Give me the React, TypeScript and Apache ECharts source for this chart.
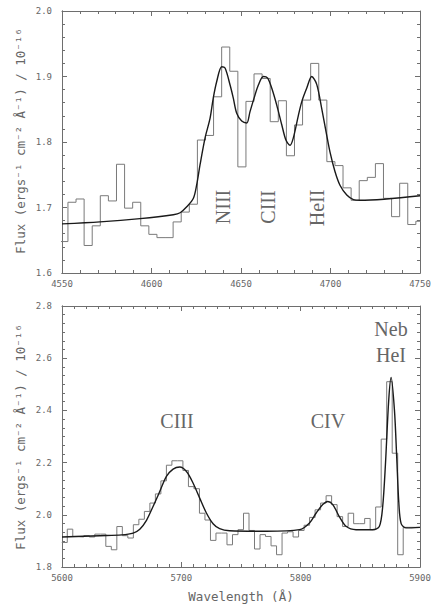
import React, { useEffect, useRef } from "react";
import * as echarts from "echarts";

// ---------- Top panel (He II / N III / C III region) ----------
const topBinStart = 4548.8; // Å, left edge of first observed bin
const topBinWidth = 4.52; // Å
const topObserved = [
  1.648, 1.708, 1.713, 1.642, 1.672, 1.718, 1.71, 1.766, 1.699, 1.708, 1.672,
  1.659, 1.654, 1.654, 1.678, 1.693, 1.705, 1.803, 1.81, 1.869, 1.945, 1.908,
  1.762, 1.862, 1.904, 1.897, 1.831, 1.863, 1.779, 1.826, 1.864, 1.92, 1.864,
  1.77, 1.764, 1.73, 1.711, 1.741, 1.746, 1.767, 1.714, 1.686, 1.737, 1.674,
  1.679,
];
const topModelWave = [
  4550, 4571.2, 4593.6, 4612.2, 4616, 4619.7, 4623.4, 4625.2, 4627.1, 4629.9,
  4632.7, 4634.5, 4636.4, 4639.2, 4641.1, 4643.9, 4645.7, 4647.6, 4650.4,
  4653.2, 4655, 4657.3, 4659.7, 4662.5, 4664.8, 4667.2, 4670, 4672.8, 4675.1,
  4677.4, 4679.2, 4682, 4684, 4686.7, 4689.5, 4692.3, 4695.1, 4697.5, 4699.7,
  4702.5, 4705.3, 4709.1, 4712.8, 4716.5, 4750,
];
const topModelFlux = [
  1.675, 1.678, 1.683, 1.689, 1.692, 1.701, 1.714, 1.734, 1.765, 1.806, 1.836,
  1.867, 1.892, 1.915, 1.913, 1.887, 1.867, 1.844, 1.832, 1.829, 1.846, 1.867,
  1.887, 1.9, 1.898, 1.882, 1.856, 1.826, 1.803, 1.795, 1.806, 1.84, 1.862,
  1.882, 1.9, 1.888, 1.851, 1.816, 1.785, 1.755, 1.734, 1.719, 1.712, 1.711,
  1.718,
];
const topXTicks = { min: 4550, max: 4750, interval: 50 };
const topYTicks = { min: 1.6, max: 2.0, interval: 0.1 };
const topLabels = ["NIII", "CIII", "HeII"];

// ---------- Bottom panel (C III / C IV / He I region) ----------
const botBinStart = 5599.8;
const botBinWidth = 4.615;
const botObserved = [
  1.894, 1.945, 1.917, 1.915, 1.92, 1.915, 1.926, 1.926, 1.879, 1.866, 1.955,
  1.92, 1.911, 1.962, 1.983, 2.013, 2.045, 2.08, 2.13, 2.19, 2.207, 2.207,
  2.17, 2.108, 2.1, 2.006, 1.98, 1.902, 1.93, 1.93, 1.885, 1.924, 1.943, 2.006,
  1.94, 1.869, 1.924, 1.917, 1.881, 1.847, 1.93, 1.935, 1.915, 1.94, 1.96,
  1.99, 2.019, 2.045, 2.073, 2.039, 1.993, 1.955, 2.006, 1.966, 1.966, 1.986,
  1.943, 2.03, 2.29, 2.51, 2.236, 1.847, 1.952, 1.952, 1.952,
];
const botModelWave = [
  5600, 5631.8, 5650, 5659.6, 5665.2, 5670.8, 5676.3, 5681.9, 5687.5, 5693.1,
  5698.7, 5704.3, 5709.8, 5715.4, 5721, 5726.6, 5732.1, 5740.5, 5771.2, 5799,
  5807.4, 5813, 5818.5, 5822.7, 5826.9, 5832.5, 5838, 5846.4, 5860.3, 5865.9,
  5868.7, 5871, 5873.8, 5875.8, 5878.6, 5880.5, 5882.2, 5884.2, 5888.4, 5900,
];
const botModelFlux = [
  1.915, 1.92, 1.923, 1.93, 1.945, 1.979, 2.032, 2.089, 2.147, 2.175, 2.183,
  2.166, 2.122, 2.064, 2.007, 1.966, 1.947, 1.939, 1.937, 1.943, 1.969, 2.007,
  2.039, 2.051, 2.039, 1.992, 1.956, 1.943, 1.943, 1.955, 2.03, 2.19, 2.44,
  2.526, 2.4, 2.22, 2.05, 1.966, 1.95, 1.952,
];
const botXTicks = { min: 5600, max: 5900, interval: 100 };
const botYTicks = { min: 1.8, max: 2.8, interval: 0.2 };
const botLabels = ["CIII", "CIV", "Neb", "HeI"];

const yTitle = "Flux (ergs\u207B\u00B9 cm\u207B\u00B2 \u00C5\u207B\u00B9) / 10\u207B\u00B9\u2076";
const xTitle = "Wavelength (\u00C5)";

function histData(start: number, width: number, vals: number[]) {
  const d: number[][] = vals.map((v, i) => [start + i * width, v]);
  d.push([start + vals.length * width, vals[vals.length - 1]]);
  return d;
}
function pairs(xs: number[], ys: number[]) {
  return xs.map((x, i) => [x, ys[i]]);
}

const FRAME = "#6e6e6e";
const TICK = "#6e6e6e";
const LABEL = "#666666";
const MONO = '"DejaVu Sans Mono", monospace';
const SERIF = '"Liberation Serif", "DejaVu Serif", serif';

type T = { min: number; max: number; interval: number };

const GRID_W = 358;
const TOP_H = 262;
const BOT_H = 261;

function base(grid: number, t: T) {
  return {
    type: "value",
    gridIndex: grid,
    min: t.min,
    max: t.max,
    interval: t.interval,
    splitLine: { show: false },
  };
}
function ticks(minorSplit: number, inside: boolean) {
  return {
    axisTick: { show: true, inside, length: 5, lineStyle: { color: TICK, width: 1 } },
    minorTick: { show: true, splitNumber: minorSplit, length: 3, lineStyle: { color: TICK, width: 1 } },
  };
}
function tickAxis(grid: number, t: T, minorSplit: number, position: string, offset: number, inside: boolean) {
  return {
    ...base(grid, t),
    position,
    offset,
    axisLine: { show: true, onZero: false, lineStyle: { color: FRAME, width: 1 } },
    ...ticks(minorSplit, inside),
    axisLabel: { show: false },
  };
}
function labelAxis(grid: number, t: T, minorSplit: number, position: string, fmt: (v: number) => string, margin: number) {
  return {
    ...base(grid, t),
    position,
    axisLine: { show: true, onZero: false, lineStyle: { color: FRAME, width: 1 } },
    ...ticks(minorSplit, true),
    axisLabel: {
      show: true,
      margin,
      color: LABEL,
      fontFamily: MONO,
      fontSize: 9,
      formatter: fmt,
      showMinLabel: true,
      showMaxLabel: true,
    },
  };
}
const fmtX = (v: number) => String(Math.round(v));
const fmtY = (v: number) => v.toFixed(1);

function xAxes(grid: number, t: T, minorSplit: number, h: number) {
  return [
    labelAxis(grid, t, minorSplit, "bottom", fmtX, 6),
    tickAxis(grid, t, minorSplit, "top", 0, true),
    tickAxis(grid, t, minorSplit, "top", -h, false),
  ];
}
function yAxes(grid: number, t: T, minorSplit: number) {
  return [
    labelAxis(grid, t, minorSplit, "left", fmtY, 10),
    tickAxis(grid, t, minorSplit, "right", 0, true),
    tickAxis(grid, t, minorSplit, "right", -GRID_W, false),
  ];
}

function txt(text: string, x: number, y: number, font: string, rotation = 0) {
  return {
    type: "text",
    x,
    y,
    rotation,
    silent: true,
    style: {
      text,
      font,
      fill: LABEL,
      align: "center",
      verticalAlign: "middle",
      textAlign: "center",
      textVerticalAlign: "middle",
    },
  };
}

export default function App() {
  const ref = useRef<HTMLDivElement>(null);
  useEffect(() => {
    if (!ref.current) return;
    const chart = echarts.init(ref.current, undefined, { renderer: "svg" });
    const annFont = `20px ${SERIF}`;
    const hist = { color: "#7a7a7a", width: 1 };
    const model = { color: "#1a1a1a", width: 1.4 };
    chart.setOption({
      animation: false,
      backgroundColor: "#ffffff",
      grid: [
        { left: 62, top: 11, width: GRID_W, height: TOP_H },
        { left: 62, top: 306, width: GRID_W, height: BOT_H },
      ],
      xAxis: [...xAxes(0, topXTicks, 5, TOP_H), ...xAxes(1, botXTicks, 10, BOT_H)],
      yAxis: [...yAxes(0, topYTicks, 5), ...yAxes(1, botYTicks, 6)],
      series: [
        {
          type: "line", xAxisIndex: 0, yAxisIndex: 0, step: "end", symbol: "none",
          data: histData(topBinStart, topBinWidth, topObserved), lineStyle: hist,
        },
        {
          type: "line", xAxisIndex: 0, yAxisIndex: 0, symbol: "none", smooth: 0.3,
          data: pairs(topModelWave, topModelFlux), lineStyle: model,
        },
        {
          type: "line", xAxisIndex: 3, yAxisIndex: 3, step: "end", symbol: "none",
          data: histData(botBinStart, botBinWidth, botObserved), lineStyle: hist,
        },
        {
          type: "line", xAxisIndex: 3, yAxisIndex: 3, symbol: "none", smooth: 0.3,
          data: pairs(botModelWave, botModelFlux), lineStyle: model,
        },
      ],
      graphic: [
        txt(yTitle, 20, 141, `12.5px ${MONO}`, Math.PI / 2),
        txt(yTitle, 20, 437, `12.5px ${MONO}`, Math.PI / 2),
        txt(xTitle, 241, 596, `12.5px ${MONO}`),
        txt(topLabels[0], 223, 207, annFont, Math.PI / 2),
        txt(topLabels[1], 268, 207, annFont, Math.PI / 2),
        txt(topLabels[2], 317, 208, annFont, Math.PI / 2),
        txt(botLabels[0], 177, 421, annFont),
        txt(botLabels[1], 328, 421, annFont),
        txt(botLabels[2], 391, 329, annFont),
        txt(botLabels[3], 391, 355, annFont),
      ],
    });
    return () => chart.dispose();
  }, []);
  return (
    <div
      ref={ref}
      style={{ position: "fixed", left: 0, top: 0, width: 434, height: 604, background: "#fff" }}
    />
  );
}
